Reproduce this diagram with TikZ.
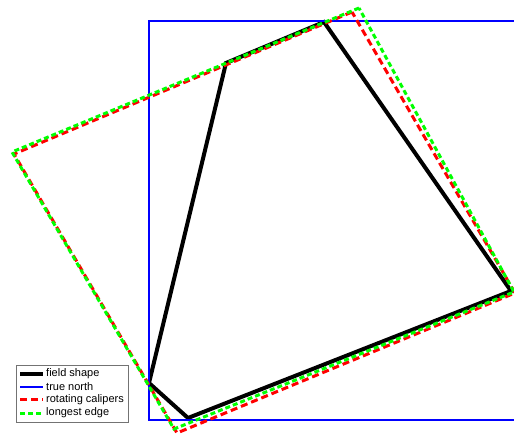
\documentclass[tikz,border=0pt]{standalone}
\usepackage{fontspec}
\setmainfont{Liberation Sans}
\usetikzlibrary{positioning}

\begin{document}
\begin{tikzpicture}[
    x=1pt, y=-1pt,
    field/.style={line width=4pt, black},
    truenorth/.style={line width=2.8pt, blue},
    calip/.style={line width=3pt, red, dash pattern=on 7pt off 4pt},
    longest/.style={line width=3pt, green, dash pattern=on 5pt off 3pt},
    legbox/.style={draw=black!55, fill=white, line width=0.7pt, minimum width=112pt, minimum height=57pt, inner sep=0pt},
    key/.style={font=\fontsize{11}{12}\selectfont, anchor=west, inner sep=0pt}
  ]
    \useasboundingbox (0,0) rectangle (514,435);
    \clip (0,0) rectangle (514,435);
    % field shape
    \coordinate (fa) at (149,383);
    \coordinate (fb) at (226,63);
    \coordinate (fc) at (324,22);
    \coordinate (fd) at (511,291);
    \coordinate (fe) at (188,418);
    \draw[field] (fa) -- (fb) -- (fc) -- (fd) -- (fe) -- cycle;
    % true north
    \coordinate (nw) at (149,21);
    \coordinate (sw) at (149,420);
    \draw[truenorth] (nw -| 560,0) -- (nw) -- (sw) -- (sw -| 560,0);
    % rotating calipers
    \coordinate (rt) at (352,12);
    \coordinate (rl) at (14,154);
    \coordinate (rb) at (177,433);
    \coordinate (rr) at (515,293);
    \draw[calip] (rt) -- (rl) -- (rb) -- (rr) -- cycle;
    % longest edge
    \coordinate (gt) at (359,8);
    \coordinate (gl) at (12,152);
    \coordinate (gb) at (174,429);
    \coordinate (gr) at (514,292);
    \draw[longest] (gt) -- (gl) -- (gb) -- (gr) -- cycle;
    % legend
    \node[legbox] (leg) at (72,393.5) {};
    \foreach \sty/\txt [count=\i] in {field/field shape, truenorth/true north, calip/rotating calipers, longest/longest edge} {
      \node[key] (key\i) at (46,361+13*\i) {\txt};
      \draw[\sty] ([xshift=-26pt]key\i.west) -- ([xshift=-3pt]key\i.west);
    }
  \end{tikzpicture}
\end{document}
